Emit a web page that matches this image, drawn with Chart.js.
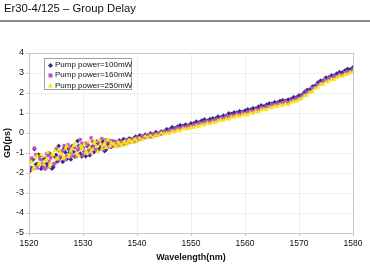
<!DOCTYPE html>
<html><head><meta charset="utf-8">
<script src="https://cdn.jsdelivr.net/npm/chart.js@4"></script>
<style>
html,body{margin:0;padding:0;background:#fff;width:370px;height:265px;overflow:hidden;font-family:"Liberation Sans",Arial,sans-serif;}
#wrap{position:relative;width:370px;height:265px;}
#c{position:absolute;left:0;top:0;}
#title{position:absolute;left:4px;top:2px;font-size:11.3px;color:#111;white-space:nowrap;}
#rule{position:absolute;left:0;top:20px;width:370px;height:2px;background:#8a8a8a;}
#legend{position:absolute;left:44px;top:58px;width:88px;height:32px;border:1px solid #a0a0a0;background:#fff;font-size:8px;color:#111;box-sizing:border-box;padding-top:1px;}
.row{position:relative;height:10.3px;line-height:10.3px;padding-left:10px;white-space:nowrap;}
.row svg{position:absolute;left:3px;top:2.5px;}
</style></head>
<body><div id="wrap">
<canvas id="c" width="370" height="265"></canvas>
<div id="title">Er30-4/125 – Group Delay</div>
<div id="rule"></div>
<div id="legend"></div>
</div>
<script>
const wavelengths = [1520,1520.5,1521,1521.5,1522,1522.5,1523,1523.5,1524,1524.5,1525,1525.5,1526,1526.5,1527,1527.5,1528,1528.5,1529,1529.5,1530,1530.5,1531,1531.5,1532,1532.5,1533,1533.5,1534,1534.5,1535,1535.5,1536,1536.5,1537,1537.5,1538,1538.5,1539,1539.5,1540,1540.5,1541,1541.5,1542,1542.5,1543,1543.5,1544,1544.5,1545,1545.5,1546,1546.5,1547,1547.5,1548,1548.5,1549,1549.5,1550,1550.5,1551,1551.5,1552,1552.5,1553,1553.5,1554,1554.5,1555,1555.5,1556,1556.5,1557,1557.5,1558,1558.5,1559,1559.5,1560,1560.5,1561,1561.5,1562,1562.5,1563,1563.5,1564,1564.5,1565,1565.5,1566,1566.5,1567,1567.5,1568,1568.5,1569,1569.5,1570,1570.5,1571,1571.5,1572,1572.5,1573,1573.5,1574,1574.5,1575,1575.5,1576,1576.5,1577,1577.5,1578,1578.5,1579,1579.5,1580];

const gd100 = [-1.45,-1.75,-0.80,-1.55,-1.15,-1.68,-1.30,-1.68,-1.10,-1.70,-1.10,-0.65,-1.25,-0.78,-1.30,-0.98,-0.65,-1.18,-0.40,-1.03,-0.75,-1.16,-0.63,-0.74,-0.95,-0.43,-0.80,-0.53,-0.90,-0.53,-0.40,
-0.43,-0.62,-0.44,-0.53,-0.31,-0.45,-0.28,-0.43,-0.26,-0.31,-0.12,-0.22,-0.09,-0.18,-0.02,-0.08,0.04,-0.05,0.08,0.06,
0.19,0.18,0.29,0.24,0.32,0.39,0.35,0.42,0.38,0.48,0.48,0.57,0.53,0.62,0.68,0.61,0.69,0.73,0.72,0.82,0.78,0.87,0.85,0.98,0.95,1.03,1.01,1.09,1.05,1.12,
1.18,1.16,1.24,1.21,1.31,1.38,1.33,1.41,1.48,1.46,1.54,1.51,1.60,1.64,1.60,1.67,1.69,1.79,1.78,1.88,
1.90,2.04,2.15,2.18,2.33,2.36,2.52,2.61,2.63,2.77,2.77,2.88,2.86,2.97,3.04,3.02,3.12,3.20,3.18,3.28];

const gd160 = [-1.70,-1.25,-0.75,-1.75,-1.30,-1.53,-1.80,-1.13,-1.25,-1.55,-0.80,-1.35,-0.95,-0.63,-1.15,-0.73,-1.15,-0.73,-0.85,-0.33,-1.10,-0.51,-0.88,-0.24,-0.65,-0.88,-0.45,-0.28,-0.70,-0.43,-0.70,
-0.63,-0.43,-0.63,-0.44,-0.56,-0.35,-0.47,-0.34,-0.43,-0.23,-0.31,-0.15,-0.23,-0.10,-0.20,-0.04,-0.11,0.00,-0.05,0.06,
0.04,0.14,0.11,0.20,0.25,0.22,0.31,0.28,0.37,0.31,0.41,0.40,0.50,0.48,0.54,0.59,0.55,0.62,0.67,0.64,0.74,0.73,0.83,0.80,0.88,0.86,0.96,0.93,1.02,0.97,
1.06,1.11,1.07,1.17,1.16,1.27,1.24,1.33,1.31,1.42,1.39,1.48,1.44,1.52,1.57,1.52,1.62,1.63,1.73,1.71,
1.85,1.89,2.04,2.08,2.24,2.27,2.42,2.46,2.59,2.61,2.73,2.72,2.82,2.83,2.93,2.91,3.02,3.08,3.07,3.17];

const gd250 = [-2.15,-1.45,-1.70,-1.15,-1.50,-1.18,-1.40,-0.98,-1.50,-1.10,-1.30,-0.85,-1.05,-1.23,-0.65,-1.08,-0.80,-0.53,-1.10,-0.63,-0.80,-0.96,-0.43,-0.94,-0.50,-0.68,-0.35,-0.78,-0.50,-0.33,-0.65,
-0.55,-0.70,-0.46,-0.61,-0.48,-0.59,-0.36,-0.47,-0.33,-0.43,-0.27,-0.34,-0.17,-0.23,-0.13,-0.22,-0.09,-0.14,0.00,-0.05,
-0.01,-0.03,0.08,0.06,0.13,0.11,0.21,0.21,0.20,0.29,0.27,0.36,0.32,0.42,0.40,0.49,0.46,0.53,0.51,0.60,0.65,0.62,0.71,0.69,0.79,0.78,0.87,0.82,0.90,0.93,
0.90,1.00,0.99,1.09,1.06,1.15,1.19,1.16,1.26,1.26,1.35,1.32,1.40,1.38,1.46,1.41,1.52,1.58,1.57,1.67,
1.71,1.86,1.88,2.02,2.06,2.23,2.28,2.44,2.43,2.55,2.57,2.68,2.66,2.77,2.84,2.82,2.92,2.93,3.03,3.03];

// extra (denser) readings across the noisy short-wavelength end
const wavelengthsFine = [1520.25,1520.75,1521.25,1521.75,1522.25,1522.75,1523.25,1523.75,1524.25,1524.75,1525.25,1525.75,1526.25,1526.75,1527.25,1527.75,1528.25,1528.75,1529.25,1529.75,1530.25,1530.75,1531.25,1531.75,1532.25,1532.75,1533.25,1533.75,1534.25,1534.75,1535.25,1535.75,1536.25,1536.75,1537.25,1537.75,1538.25,1538.75,1539.25,1539.75];
const gd100Fine = [-1.88,-1.33,-1.58,-1.08,-1.79,-1.27,-1.54,-1.02,-1.78,-1.18,-1.43,-0.93,-1.44,-0.97,-0.79,-1.32,-0.94,-1.12,-0.64,-1.17,-0.93,-0.65,-1.11,-0.67,-0.89,-0.52,-0.74,-0.42,-0.84,-0.57,-0.69,-0.44,-0.55,-0.37,-0.48,-0.35,-0.47,-0.30,-0.34,-0.18];
const gd160Fine = [-1.38,-1.78,-1.08,-1.58,-1.34,-1.72,-1.04,-1.42,-1.13,-1.53,-0.83,-1.18,-0.89,-1.32,-0.59,-1.12,-0.69,-1.17,-0.79,-0.52,-0.98,-0.60,-1.01,-0.42,-0.79,-0.42,-0.59,-0.82,-0.34,-0.67,-0.39,-0.63,-0.45,-0.62,-0.44,-0.54,-0.35,-0.44,-0.30,-0.40];
const gd250Fine = [-1.48,-1.83,-1.23,-1.58,-1.09,-1.57,-1.29,-1.67,-1.08,-0.88,-1.28,-0.98,-1.29,-0.77,-1.19,-0.92,-0.64,-1.02,-1.14,-0.72,-0.58,-1.00,-0.71,-0.82,-0.44,-0.92,-0.54,-0.62,-0.74,-0.37,-0.49,-0.55,-0.67,-0.53,-0.64,-0.43,-0.51,-0.39,-0.48,-0.32];

const seriesLabels = ["Pump power=100mW","Pump power=160mW","Pump power=250mW"];
const xTicks = [1520,1530,1540,1550,1560,1570,1580];
const yTicks = [-5,-4,-3,-2,-1,0,1,2,3,4];

const colors = ["#2e2c83","#c44ec4","#f4e619"];
const styles = ["rectRot","rect","triangle"];
const radii = [2.2,2.1,2.4];
const seriesData = [[gd100, gd100Fine], [gd160, gd160Fine], [gd250, gd250Fine]];

const datasets = seriesData.map((pair, k) => ({
  label: seriesLabels[k],
  data: wavelengths.map((w, i) => ({x: w, y: pair[0][i]}))
        .concat(wavelengthsFine.map((w, i) => ({x: w, y: pair[1][i]}))),
  pointStyle: styles[k],
  pointRadius: radii[k],
  pointBackgroundColor: colors[k],
  pointBorderColor: colors[k],
  pointBorderWidth: 0.3,
  showLine: false,
  order: 3 - k
}));

const frame = {
  id: 'frame',
  afterDatasetsDraw(chart) {
    const a = chart.chartArea, ctx = chart.ctx;
    ctx.save();
    ctx.strokeStyle = '#c8c8c8';
    ctx.lineWidth = 1;
    ctx.strokeRect(Math.round(a.left) + 0.5, Math.round(a.top) + 0.5, Math.round(a.right - a.left), Math.round(a.bottom - a.top));
    ctx.restore();
  }
};

new Chart(document.getElementById('c'), {
  type: 'scatter',
  data: { datasets },
  options: {
    responsive: false,
    animation: false,
    layout: { padding: { left: 0, right: 17, top: 53, bottom: 0 } },
    plugins: { legend: { display: false }, tooltip: { enabled: false } },
    scales: {
      x: {
        type: 'linear', min: 1520, max: 1580,
        afterBuildTicks: s => { s.ticks = xTicks.map(v => ({value: v})); },
        afterFit: s => { s.height = 32; },
        grid: { color: '#efefef', tickLength: 3, tickColor: '#c8c8c8' },
        border: { color: '#c8c8c8' },
        ticks: { font: { size: 8.5, family: 'Liberation Sans' }, color: '#111', padding: 3, maxRotation: 0, callback: v => String(v) },
        title: { display: true, text: 'Wavelength(nm)', font: { size: 9, weight: 'bold', family: 'Liberation Sans' }, color: '#111', padding: { top: 0, bottom: 2 } }
      },
      y: {
        type: 'linear', min: -5, max: 4,
        afterBuildTicks: s => { s.ticks = yTicks.map(v => ({value: v})); },
        afterFit: s => { s.width = 29; },
        grid: { color: '#efefef', tickLength: 3, tickColor: '#c8c8c8' },
        border: { color: '#c8c8c8' },
        ticks: { font: { size: 9, family: 'Liberation Sans' }, color: '#111', padding: 2, callback: v => String(v) },
        title: { display: true, text: 'GD(ps)', font: { size: 9, weight: 'bold', family: 'Liberation Sans' }, color: '#111', padding: { top: 2, bottom: 0 } }
      }
    }
  },
  plugins: [frame]
});

// HTML legend built from the series labels
const lg = document.getElementById('legend');
seriesLabels.forEach((lab, k) => {
  const row = document.createElement('div');
  row.className = 'row';
  let shape;
  if (k === 0) shape = '<polygon points="2.5,0 5,2.5 2.5,5 0,2.5" fill="' + colors[k] + '"/>';
  else if (k === 1) shape = '<rect x="0.5" y="0.5" width="4" height="4" fill="' + colors[k] + '"/>';
  else shape = '<polygon points="2.5,0 5,4.5 0,4.5" fill="' + colors[k] + '"/>';
  row.innerHTML = '<svg width="5" height="5">' + shape + '</svg>' + lab;
  lg.appendChild(row);
});
</script>
</body></html>
